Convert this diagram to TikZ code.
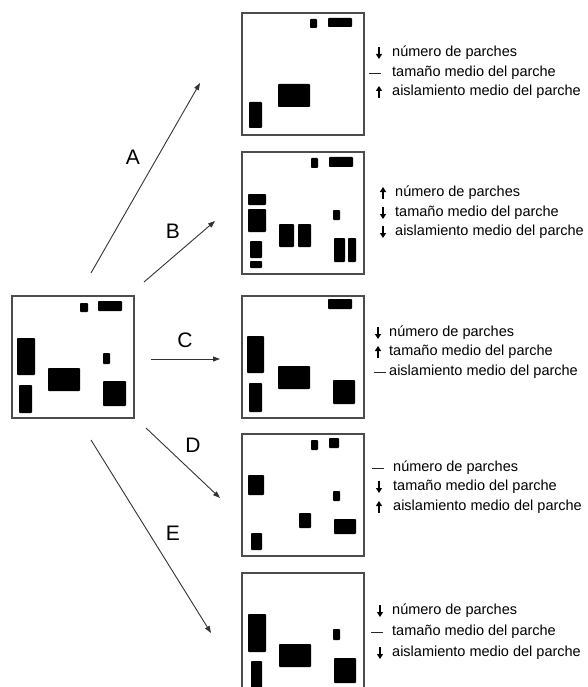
\documentclass[tikz,border=0pt]{standalone}
\usepackage{fontspec}
\setmainfont{Liberation Sans}
\usetikzlibrary{arrows.meta}
\usetikzlibrary{positioning}

\tikzset{
  mapbox/.style={draw=black!70, line width=1.3pt, minimum width=122pt, minimum height=122pt, inner sep=0pt, outer sep=0pt},
  ramp/.style={draw=black!80, line width=0.9pt, -{Triangle[length=7pt,width=5pt]}},
  lbl/.style={font=\fontsize{21}{21}\selectfont},
  info/.style={font=\fontsize{14.5}{16}\selectfont, anchor=west, inner sep=0pt},
  patch/.style={fill=black, rounded corners=0.8pt},
  arrup/.pic={\draw[line width=1.2pt, -{Triangle[length=5pt,width=6pt]}] (0,6) -- (0,-6);},
  arrdn/.pic={\draw[line width=1.2pt, -{Triangle[length=5pt,width=6pt]}] (0,-6) -- (0,6);},
  flat/.pic={\draw[line width=0.9pt, draw=black!85] (-6,0) -- (6,0);}
}

\begin{document}
\begin{tikzpicture}[x=1pt, y=-1pt] % 1 Einheit = 1 Pixel, y nach unten
\useasboundingbox (0,0) rectangle (587,687);
% Landschaften
\node[mapbox] (m0) at (73,357) {};
\node[mapbox] (ma) at (303,74) {};
\node[mapbox] (mb) at (303,213) {};
\node[mapbox] (mc) at (303,357) {};
\node[mapbox] (md) at (303,495) {};
\node[mapbox] (me) at (303,634) {};
% Parches
\begin{scope}[shift={(m0.north west)}]
\foreach \a/\b/\c/\d in {68/7/76/16, 86/5/110/15, 5/42/23/79, 91/57/98/68, 36/72/68/95, 7/89/20/117, 91/85/114/110}
  \fill[patch] (\a,\b) rectangle (\c,\d);
\end{scope}
\begin{scope}[shift={(ma.north west)}]
\foreach \a/\b/\c/\d in {68/6/75/15, 86/5/110/14, 36/71/68/94, 7/89/20/115}
  \fill[patch] (\a,\b) rectangle (\c,\d);
\end{scope}
\begin{scope}[shift={(mb.north west)}]
\foreach \a/\b/\c/\d in {69/6/76/16, 87/5/111/15, 6/42/24/53, 6/57/24/80, 91/58/98/68, 37/72/52/95, 56/72/69/95, 8/89/20/106, 8/109/20/116, 92/86/103/110, 106/86/114/110}
  \fill[patch] (\a,\b) rectangle (\c,\d);
\end{scope}
\begin{scope}[shift={(mc.north west)}]
\foreach \a/\b/\c/\d in {86/3/110/13, 5/40/22/77, 36/70/68/93, 7/87/20/116, 91/84/113/108}
  \fill[patch] (\a,\b) rectangle (\c,\d);
\end{scope}
\begin{scope}[shift={(md.north west)}]
\foreach \a/\b/\c/\d in {69/6/76/16, 87/4/97/14, 6/41/22/61, 91/57/98/67, 57/79/69/94, 92/85/114/100, 9/99/20/116}
  \fill[patch] (\a,\b) rectangle (\c,\d);
\end{scope}
\begin{scope}[shift={(me.north west)}]
\foreach \a/\b/\c/\d in {6/41/24/79, 37/71/69/94, 91/56/98/67, 9/88/20/130, 92/85/114/110}
  \fill[patch] (\a,\b) rectangle (\c,\d);
\end{scope}
% Pfeile A bis E
\foreach \n/\sx/\sy/\ex/\ey/\lx/\ly in {A/91/273/200/83/133/157, B/144/282/215/221/173/231, C/151/359/220/359/185/340, D/146/428/220/498/193/445, E/91/440/211/633/173/533} {
  \coordinate (s\n) at (\sx,\sy);
  \coordinate (e\n) at (\ex,\ey);
  \draw[ramp] (s\n) -- (e\n);
  \node[lbl] (l\n) at (\lx,\ly) {\n};
}
% Kennzahlen (Name/x/y/Zeichen/Abstand/Text)
\foreach \nm/\x/\y/\k/\dx/\t in {
  a1/392/53/arrdn/13/número de parches, a2/392/73/flat/17/tamaño medio del parche, a3/392/92/arrup/13/aislamiento medio del parche,
  b1/395/193/arrup/12/número de parches, b2/395/213/arrdn/12/tamaño medio del parche, b3/395/232/arrdn/12/aislamiento medio del parche,
  c1/389/333/arrdn/11/número de parches, c2/389/352/arrup/11/tamaño medio del parche, c3/389/372/flat/9/aislamiento medio del parche,
  d1/393/468/flat/15/número de parches, d2/393/487/arrdn/14/tamaño medio del parche, d3/393/507/arrup/14/aislamiento medio del parche,
  e1/392/611/arrdn/12/número de parches, e2/392/632/flat/15/tamaño medio del parche, e3/392/653/arrdn/12/aislamiento medio del parche} {
  \node[info] (\nm) at (\x,\y) {\t};
  \pic at (\x-\dx,\y) {\k};
}
\end{tikzpicture}
\end{document}
